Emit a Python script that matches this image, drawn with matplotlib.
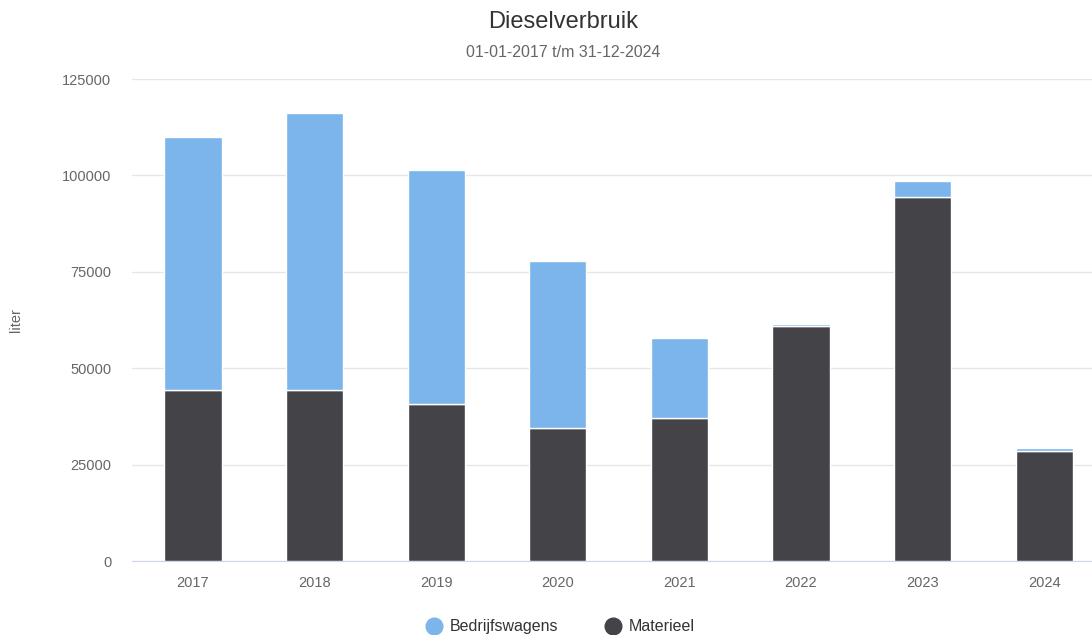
import matplotlib.pyplot as plt
import numpy as np
from matplotlib.lines import Line2D

plt.rcParams['font.family'] = ['Liberation Sans', 'DejaVu Sans']

# data
jaren = ['2017', '2018', '2019', '2020', '2021', '2022', '2023', '2024']
materieel = [44300, 44300, 40600, 34500, 37100, 60900, 94500, 28500]
bedrijfswagens = [65700, 71900, 60800, 43300, 20800, 600, 4100, 800]
yticks = [0, 25000, 50000, 75000, 100000, 125000]

fig = plt.figure(figsize=(10.92, 6.35), dpi=100)
# plot area runs a bit past the right edge, as in the original
ax = fig.add_axes([0.121, 0.1165, 0.891, 0.759])

x = np.arange(len(jaren))
w = 0.47
ax.bar(x, materieel, width=w, color='#434348', edgecolor='white', linewidth=1, zorder=3)
ax.bar(x, bedrijfswagens, width=w, bottom=materieel, color='#7cb5ec',
       edgecolor='white', linewidth=1, zorder=3)

ax.set_xlim(-0.5, len(jaren) - 0.5)
ax.set_ylim(0, 125000)
ax.set_yticks(yticks)
ax.set_yticklabels([str(t) for t in yticks])
ax.set_xticks(x)
ax.set_xticklabels(jaren)
ax.tick_params(axis='both', length=0, labelsize=10.5, labelcolor='#666666')
ax.tick_params(axis='y', pad=15)
ax.tick_params(axis='x', pad=11)
ax.grid(axis='y', color='#e6e6e6', linewidth=1, zorder=0)
for s in ['top', 'right', 'left']:
    ax.spines[s].set_visible(False)
ax.spines['bottom'].set_color('#ccd6eb')
ax.set_ylabel('liter', color='#666666', fontsize=10.5)
ax.yaxis.set_label_coords(-0.112, 0.5)

fig.text(0.516, 0.966, 'Dieselverbruik', ha='center', va='center', fontsize=17, color='#333333')
fig.text(0.516, 0.918, '01-01-2017 t/m 31-12-2024', ha='center', va='center', fontsize=11.5, color='#666666')

handles = [Line2D([], [], marker='o', linestyle='', markersize=12, color='#7cb5ec'),
           Line2D([], [], marker='o', linestyle='', markersize=12, color='#434348')]
fig.legend(handles, ['Bedrijfswagens', 'Materieel'], loc='center', bbox_to_anchor=(0.511, 0.013),
           ncol=2, frameon=False, fontsize=11.5, labelcolor='#333333',
           handletextpad=0.2, columnspacing=2.6, handlelength=1.6)

fig.savefig('out.png', dpi=100)
